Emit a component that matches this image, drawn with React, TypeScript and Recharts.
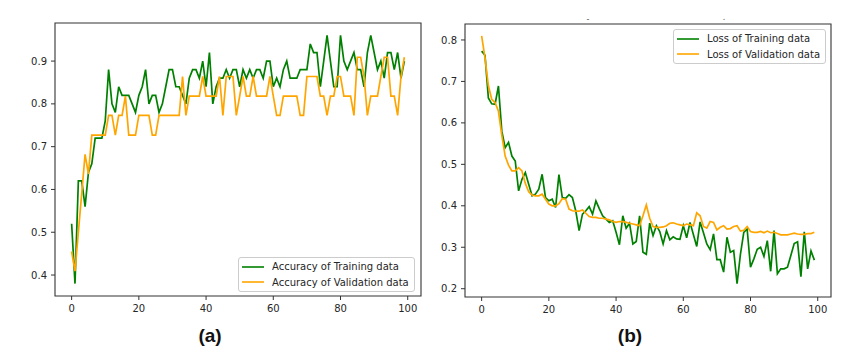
import React from 'react';
import { LineChart, Line, XAxis, YAxis, ReferenceArea, Legend } from 'recharts';

// ---------- data ----------
const trainAcc = [
  0.52, 0.38, 0.62, 0.62, 0.56, 0.64, 0.66, 0.72, 0.72, 0.72,
  0.76, 0.88, 0.80, 0.78, 0.84, 0.82, 0.82, 0.82, 0.80, 0.78,
  0.82, 0.84, 0.88, 0.80, 0.82, 0.82, 0.78, 0.80, 0.84, 0.88,
  0.88, 0.84, 0.84, 0.82, 0.80, 0.86, 0.88, 0.88, 0.86, 0.90,
  0.84, 0.92, 0.80, 0.84, 0.86, 0.86, 0.88, 0.86, 0.88, 0.88,
  0.84, 0.88, 0.86, 0.88, 0.86, 0.88, 0.88, 0.86, 0.90, 0.90,
  0.84, 0.86, 0.84, 0.88, 0.90, 0.86, 0.86, 0.86, 0.88, 0.88,
  0.88, 0.94, 0.92, 0.92, 0.84, 0.90, 0.96, 0.90, 0.84, 0.84,
  0.96, 0.90, 0.88, 0.90, 0.92, 0.88, 0.88, 0.84, 0.92, 0.96,
  0.92, 0.88, 0.90, 0.86, 0.92, 0.92, 0.88, 0.92, 0.86, 0.90,
];

const valAcc = [
  0.455, 0.409, 0.500, 0.591, 0.682, 0.636, 0.727, 0.727, 0.727, 0.727,
  0.727, 0.773, 0.773, 0.727, 0.773, 0.773, 0.818, 0.727, 0.727, 0.727,
  0.773, 0.773, 0.773, 0.773, 0.727, 0.727, 0.773, 0.773, 0.773, 0.773,
  0.773, 0.773, 0.773, 0.864, 0.773, 0.818, 0.818, 0.818, 0.818, 0.864,
  0.818, 0.818, 0.818, 0.818, 0.864, 0.773, 0.864, 0.864, 0.864, 0.773,
  0.818, 0.864, 0.818, 0.818, 0.864, 0.818, 0.818, 0.818, 0.818, 0.864,
  0.818, 0.773, 0.773, 0.818, 0.818, 0.818, 0.818, 0.818, 0.773, 0.773,
  0.864, 0.864, 0.864, 0.864, 0.818, 0.818, 0.773, 0.818, 0.818, 0.864,
  0.864, 0.818, 0.818, 0.818, 0.773, 0.909, 0.909, 0.864, 0.773, 0.818,
  0.818, 0.818, 0.864, 0.909, 0.909, 0.818, 0.818, 0.773, 0.864, 0.909,
];

const trainLoss = [
  0.773, 0.763, 0.660, 0.646, 0.645, 0.689, 0.580, 0.540, 0.553, 0.520,
  0.508, 0.436, 0.464, 0.480, 0.452, 0.424, 0.428, 0.440, 0.476, 0.420,
  0.412, 0.416, 0.396, 0.475, 0.420, 0.418, 0.427, 0.420, 0.388, 0.340,
  0.380, 0.388, 0.398, 0.380, 0.412, 0.393, 0.376, 0.368, 0.360, 0.364,
  0.336, 0.306, 0.376, 0.346, 0.358, 0.308, 0.314, 0.376, 0.288, 0.283,
  0.358, 0.328, 0.352, 0.338, 0.308, 0.340, 0.318, 0.325, 0.320, 0.319,
  0.352, 0.323, 0.360, 0.331, 0.302, 0.361, 0.335, 0.308, 0.294, 0.332,
  0.270, 0.270, 0.240, 0.324, 0.288, 0.292, 0.212, 0.283, 0.336, 0.344,
  0.252, 0.272, 0.295, 0.300, 0.278, 0.316, 0.242, 0.340, 0.236, 0.248,
  0.248, 0.252, 0.280, 0.309, 0.313, 0.229, 0.337, 0.248, 0.291, 0.269,
];

const valLoss = [
  0.810, 0.757, 0.690, 0.657, 0.649, 0.628, 0.570, 0.520, 0.498, 0.484,
  0.484, 0.492, 0.484, 0.454, 0.434, 0.426, 0.424, 0.424, 0.428, 0.416,
  0.404, 0.400, 0.400, 0.405, 0.417, 0.416, 0.392, 0.388, 0.387, 0.387,
  0.390, 0.382, 0.374, 0.372, 0.372, 0.370, 0.370, 0.368, 0.366, 0.362,
  0.360, 0.362, 0.362, 0.360, 0.358, 0.356, 0.354, 0.352, 0.376, 0.402,
  0.370, 0.350, 0.348, 0.348, 0.349, 0.352, 0.358, 0.359, 0.356, 0.354,
  0.352, 0.356, 0.354, 0.352, 0.383, 0.376, 0.350, 0.346, 0.362, 0.360,
  0.342, 0.348, 0.352, 0.344, 0.345, 0.350, 0.352, 0.339, 0.341, 0.350,
  0.338, 0.336, 0.336, 0.338, 0.335, 0.339, 0.335, 0.336, 0.333, 0.330,
  0.330, 0.330, 0.332, 0.334, 0.332, 0.331, 0.331, 0.333, 0.333, 0.336,
];

const xTicks = [0, 20, 40, 60, 80, 100];
const accTicks = [0.4, 0.5, 0.6, 0.7, 0.8, 0.9];
const lossTicks = [0.2, 0.3, 0.4, 0.5, 0.6, 0.7, 0.8];

const accLabels = ['Accuracy of Training data', 'Accuracy of Validation data'];
const lossLabels = ['Loss of Training data', 'Loss of Validation data'];
const panelLabels = ['(a)', '(b)'];
const titleRemnants = ['-', '.'];

// tables built from the arrays
const accData = trainAcc.map((v, i) => ({ epoch: i, train: v, val: valAcc[i] }));
const lossData = trainLoss.map((v, i) => ({ epoch: i, train: v, val: valLoss[i] }));

// ---------- style ----------
const FONT = '"DejaVu Sans", sans-serif';
const TEXT = '#262626';
const AXIS = '#333333';
const GREEN = '#008000';
const ORANGE = '#FFA500';
const X_DOMAIN: [number, number] = [-4.95, 103.95];
const ACC_DOMAIN: [number, number] = [0.351, 0.989];
const LOSS_DOMAIN: [number, number] = [0.18, 0.8385];

const tickStyle = { fontSize: 10, fill: TEXT, fontFamily: FONT };

function LegendBox({ labels }: { labels: string[] }) {
  const colors = [GREEN, ORANGE];
  return (
    <div
      style={{
        background: 'rgba(255,255,255,0.85)',
        border: '1px solid #cccccc',
        borderRadius: 3,
        padding: '1px 5px 1px 3px',
        fontFamily: FONT,
        fontSize: 10,
        color: TEXT,
        boxSizing: 'border-box',
      }}
    >
      {labels.map((l, i) => (
        <div key={l} style={{ display: 'flex', alignItems: 'center', height: 15.5, whiteSpace: 'nowrap' }}>
          <svg width={22} height={4} style={{ marginRight: 8, display: 'block' }}>
            <line x1={0} y1={2} x2={22} y2={2} stroke={colors[i]} strokeWidth={1.6} />
          </svg>
          <span>{l}</span>
        </div>
      ))}
    </div>
  );
}

function Panel({
  data, yDomain, yTicks, labels, legendPos, width, margin,
}: {
  data: any[]; yDomain: [number, number]; yTicks: number[]; labels: string[];
  legendPos: { left: number; top: number }; width: number;
  margin: { top: number; right: number; bottom: number; left: number };
}) {
  return (
    <LineChart width={width} height={348} data={data} margin={margin}>
      <XAxis
        dataKey="epoch"
        type="number"
        domain={X_DOMAIN}
        ticks={xTicks}
        allowDataOverflow
        axisLine={false}
        tickLine={{ stroke: AXIS }}
        tickSize={4}
        tickMargin={5}
        tick={tickStyle}
        height={30}
      />
      <YAxis
        type="number"
        domain={yDomain}
        ticks={yTicks}
        allowDataOverflow
        axisLine={false}
        tickLine={{ stroke: AXIS }}
        tickSize={4}
        tickMargin={4}
        tick={tickStyle}
        width={55}
      />
      <Line type="linear" dataKey="train" name={labels[0]} stroke={GREEN} strokeWidth={1.7} dot={false} isAnimationActive={false} />
      <Line type="linear" dataKey="val" name={labels[1]} stroke={ORANGE} strokeWidth={1.7} dot={false} isAnimationActive={false} />
      <ReferenceArea
        x1={X_DOMAIN[0]}
        x2={X_DOMAIN[1]}
        y1={yDomain[0]}
        y2={yDomain[1]}
        fill="none"
        fillOpacity={0}
        stroke={AXIS}
        strokeWidth={1.1}
        ifOverflow="visible"
      />
      <Legend
        layout="vertical"
        align="center"
        verticalAlign="middle"
        wrapperStyle={{ left: legendPos.left, top: legendPos.top, width: 'auto', height: 'auto' }}
        content={() => <LegendBox labels={labels} />}
      />
    </LineChart>
  );
}

const labelStyle: React.CSSProperties = {
  position: 'absolute',
  transform: 'translate(-50%, -50%)',
  fontFamily: '"Liberation Sans", Arial, sans-serif',
  fontWeight: 'bold',
  fontSize: 19,
  color: '#111',
};

const remnantStyle: React.CSSProperties = {
  position: 'absolute',
  transform: 'translate(-50%, -50%)',
  fontFamily: FONT,
  fontSize: 8,
  color: '#555',
  lineHeight: 1,
};

export default function App() {
  return (
    <div style={{ position: 'absolute', left: 0, top: 0, width: 851, height: 348, background: '#fff', overflow: 'hidden' }}>
      <div style={{ position: 'absolute', left: 0, top: 0 }}>
        <Panel
          data={accData}
          yDomain={ACC_DOMAIN}
          yTicks={accTicks}
          labels={accLabels}
          legendPos={{ left: 238, top: 257 }}
          width={430}
          margin={{ top: 23, right: 9, bottom: 22, left: 0 }}
        />
      </div>
      <div style={{ position: 'absolute', left: 410, top: 0 }}>
        <Panel
          data={lossData}
          yDomain={LOSS_DOMAIN}
          yTicks={lossTicks}
          labels={lossLabels}
          legendPos={{ left: 263, top: 29 }}
          width={441}
          margin={{ top: 24, right: 20, bottom: 21, left: 0 }}
        />
      </div>
      <div style={{ ...remnantStyle, left: 588, top: 20 }}>{titleRemnants[0]}</div>
      <div style={{ ...remnantStyle, left: 724, top: 18 }}>{titleRemnants[1]}</div>
      <div style={{ ...labelStyle, left: 210, top: 336 }}>{panelLabels[0]}</div>
      <div style={{ ...labelStyle, left: 630, top: 336 }}>{panelLabels[1]}</div>
    </div>
  );
}
